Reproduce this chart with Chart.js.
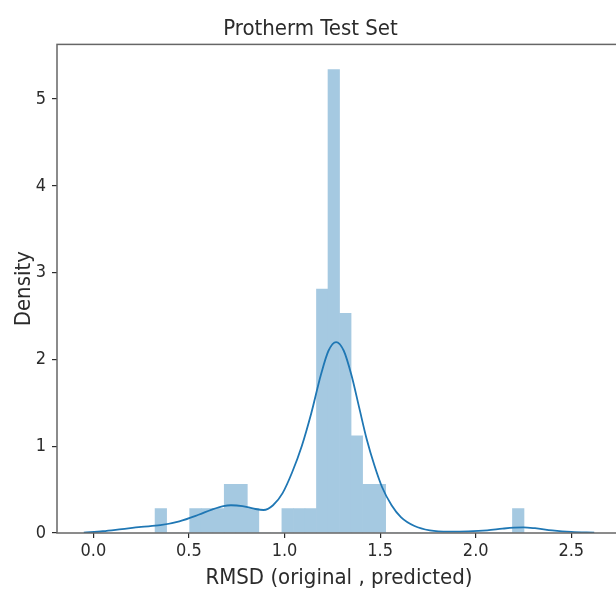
<!DOCTYPE html>
<html lang="en">
<head>
  <meta charset="UTF-8">
  <title>Protherm Test Set</title>
  <script src="https://cdn.jsdelivr.net/npm/chart.js"></script>
  <style>
    body { margin: 0; overflow: hidden; background: #fff; }
    #wrap { width: 632px; height: 595px; }
  </style>
</head>
<body>
  <div id="wrap"><canvas id="hist"></canvas></div>

  <script>
    // histogram: 32 bins, density per bin
    const binStart = 0.323;
    const binWidth = 0.0603;
    const binDensity = [
      0.28, 0, 0, 0.28, 0.28, 0.28, 0.56, 0.56, 0.28, 0, 0,
      0.28, 0.28, 0.28, 2.81, 5.34, 2.53, 1.12, 0.56, 0.56,
      0, 0, 0, 0, 0, 0, 0, 0, 0, 0, 0, 0.28
    ];

    // kde curve
    const kdeX = [-0.05, 0.05, 0.15, 0.25, 0.35, 0.45, 0.55, 0.62, 0.68, 0.72, 0.78, 0.84, 0.89, 0.94, 0.99,
                  1.04, 1.09, 1.14, 1.19, 1.23, 1.27, 1.31, 1.35, 1.39, 1.43, 1.47, 1.51, 1.56, 1.61, 1.68,
                  1.76, 1.86, 1.96, 2.06, 2.14, 2.2, 2.25, 2.31, 2.4, 2.5, 2.62];
    const kdeY = [0.005, 0.02, 0.045, 0.07, 0.09, 0.135, 0.21, 0.27, 0.31, 0.32, 0.31, 0.28, 0.265, 0.32, 0.46,
                  0.7, 1.0, 1.38, 1.82, 2.1, 2.2, 2.1, 1.82, 1.45, 1.08, 0.78, 0.53, 0.32, 0.18, 0.08,
                  0.03, 0.015, 0.018, 0.03, 0.05, 0.062, 0.065, 0.055, 0.03, 0.012, 0.004];

    const xTicks = [0, 0.5, 1.0, 1.5, 2.0, 2.5];
    const yTicks = [0, 1, 2, 3, 4, 5];

    const font = "'DejaVu Sans Condensed', 'DejaVu Sans', sans-serif";
    const ink = '#2b2b2b';

    const histData = binDensity.map((d, i) => ({ x: binStart + binWidth * (i + 0.5), y: d }));
    const kdeData = kdeX.map((x, i) => ({ x: x, y: kdeY[i] }));

    const frame = {
      id: 'frame',
      afterDraw(chart) {
        const a = chart.chartArea;
        const c = chart.ctx;
        c.save();
        c.strokeStyle = '#666';
        c.lineWidth = 1.5;
        c.strokeRect(a.left, a.top, a.right - a.left, a.bottom - a.top);
        c.restore();
      }
    };

    new Chart(document.getElementById('hist').getContext('2d'), {
      type: 'bar',
      data: {
        datasets: [
          {
            type: 'line',
            data: kdeData,
            borderColor: '#1f77b4',
            borderWidth: 1.8,
            pointRadius: 0,
            cubicInterpolationMode: 'monotone',
            fill: false
          },
          {
            data: histData,
            backgroundColor: 'rgb(165,201,225)',
            borderWidth: 0,
            barPercentage: 1,
            categoryPercentage: 1
          }
        ]
      },
      options: {
        responsive: true,
        maintainAspectRatio: false,
        animation: false,
        layout: { padding: { left: 0, right: 11, top: 0, bottom: 0 } },
        plugins: {
          legend: { display: false },
          tooltip: { enabled: false },
          title: {
            display: true,
            text: 'Protherm Test Set',
            color: ink,
            font: { family: font, size: 22, weight: 'normal' },
            padding: { top: 16, bottom: 2 }
          }
        },
        scales: {
          x: {
            type: 'linear',
            min: -0.19,
            max: 2.76,
            offset: false,
            afterBuildTicks: s => { s.ticks = xTicks.map(v => ({ value: v })); },
            afterFit: s => { s.height = 62; },
            grid: { offset: false, drawOnChartArea: false, drawTicks: true, tickLength: 5, color: ink, lineWidth: 1.2 },
            border: { display: false },
            ticks: { color: ink, padding: 3, maxRotation: 0, font: { family: font, size: 18 },
                     callback: v => v.toFixed(1) },
            title: { display: true, text: 'RMSD (original , predicted)', color: ink,
                     font: { family: font, size: 22 }, padding: { top: 0, bottom: 4 } }
          },
          y: {
            min: 0,
            max: 5.63,
            afterBuildTicks: s => { s.ticks = yTicks.map(v => ({ value: v })); },
            afterFit: s => { s.width = 57; },
            grid: { drawOnChartArea: false, drawTicks: true, tickLength: 5, color: ink, lineWidth: 1.2 },
            border: { display: false },
            ticks: { color: ink, padding: 6, font: { family: font, size: 18 } },
            title: { display: true, text: 'Density', color: ink,
                     font: { family: font, size: 22 }, padding: { top: 11, bottom: 0 } }
          }
        }
      },
      plugins: [frame]
    });
  </script>
</body>
</html>
